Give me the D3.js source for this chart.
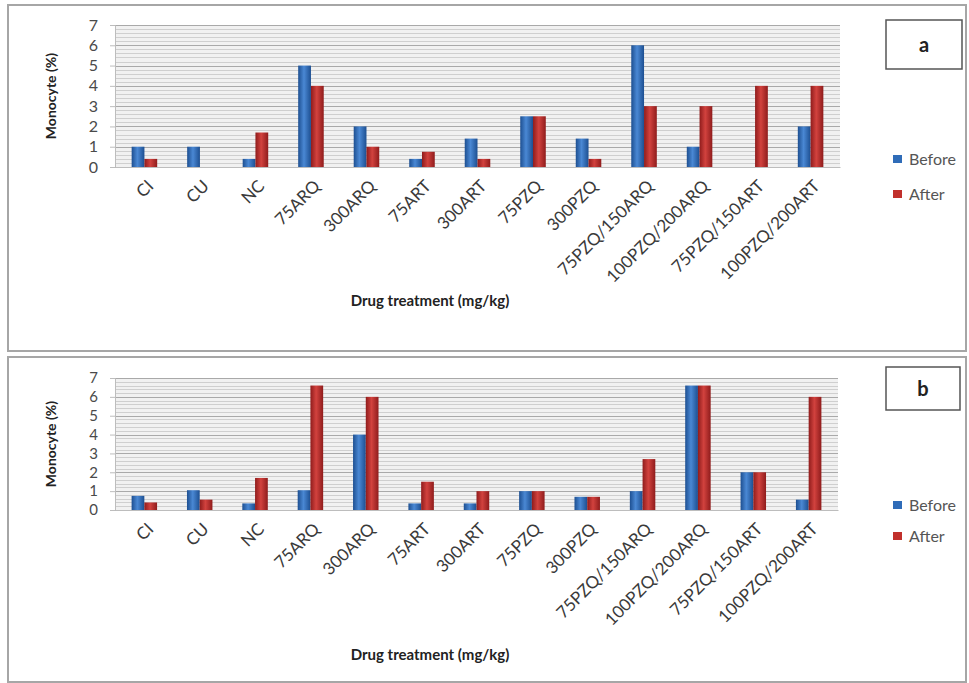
<!DOCTYPE html>
<html>
<head>
<meta charset="utf-8">
<script src="https://cdn.jsdelivr.net/npm/d3@7"></script>
<style>
  body { margin: 0; background: #fff; }
  svg { display: block; font-family: Lato, "Open Sans", sans-serif; }
</style>
</head>
<body>
<svg id="chart" width="969" height="683"></svg>
<script>
const categories = ['CI', 'CU', 'NC', '75ARQ', '300ARQ', '75ART', '300ART', '75PZQ', '300PZQ',
    '75PZQ/150ARQ', '100PZQ/200ARQ', '75PZQ/150ART', '100PZQ/200ART'];
const seriesNames = ['Before', 'After'];

const beforeA = [1, 1, 0.4, 5, 2, 0.4, 1.4, 2.5, 1.4, 6, 1, 0, 2];
const afterA  = [0.4, 0, 1.7, 4, 1, 0.75, 0.4, 2.5, 0.4, 3, 3, 4, 4];

const beforeB = [0.75, 1.05, 0.35, 1.05, 4, 0.35, 0.35, 1, 0.7, 1, 6.6, 2, 0.55];
const afterB  = [0.4, 0.55, 1.7, 6.6, 6, 1.5, 1, 1, 0.7, 2.7, 6.6, 2, 6];

const yTicks = [0, 1, 2, 3, 4, 5, 6, 7];

const svg = d3.select('#chart');

// gradients for the shaded excel-like bars
const defs = svg.append('defs');
const addGrad = (id, dark, light) => {
    const g = defs.append('linearGradient').attr('id', id)
        .attr('x1', 0).attr('x2', 1).attr('y1', 0).attr('y2', 0);
    g.append('stop').attr('offset', '0%').attr('stop-color', dark);
    g.append('stop').attr('offset', '45%').attr('stop-color', light);
    g.append('stop').attr('offset', '100%').attr('stop-color', dark);
};
addGrad('gBefore', '#1d4f91', '#4a88d4');
addGrad('gAfter', '#8f1c1c', '#d2423e');
const fills = ['url(#gBefore)', 'url(#gAfter)'];
const legendColors = ['#2f6cb8', '#c1302c'];

const drawPanel = (opt) => {
    const { box, plot, before, after, letter, letterBox, legendY, titleY, tickFont } = opt;

    // panel frame
    svg.append('rect')
        .attr('x', box[0]).attr('y', box[1])
        .attr('width', box[2]).attr('height', box[3])
        .attr('fill', '#fff').attr('stroke', '#a6a6a6').attr('stroke-width', 2);

    const x = d3.scaleBand().domain(categories)
        .range([plot.left, plot.right]).paddingInner(0.54).paddingOuter(0.3);
    const x1 = d3.scaleBand().domain(seriesNames).range([0, x.bandwidth()]);
    const y = d3.scaleLinear().domain([0, 7]).range([plot.bottom, plot.top]);

    // plot wall
    svg.append('rect')
        .attr('x', plot.left).attr('y', plot.top)
        .attr('width', plot.right - plot.left).attr('height', plot.bottom - plot.top)
        .attr('fill', '#f1f1f1');

    // minor grid
    svg.append('g')
        .selectAll('line')
        .data(d3.range(0, 7.01, 0.2))
        .enter()
        .append('line')
        .attr('x1', plot.left).attr('x2', plot.right)
        .attr('y1', d => Math.round(y(d)) + 0.5).attr('y2', d => Math.round(y(d)) + 0.5)
        .attr('stroke', '#cfcfcf').attr('stroke-width', 1);

    // major grid
    svg.append('g')
        .selectAll('line')
        .data(yTicks)
        .enter()
        .append('line')
        .attr('x1', plot.left).attr('x2', plot.right)
        .attr('y1', d => Math.round(y(d)) + 0.5).attr('y2', d => Math.round(y(d)) + 0.5)
        .attr('stroke', '#a9a9a9').attr('stroke-width', 1);

    // y axis
    const yAxis = svg.append('g')
        .attr('transform', `translate(${plot.left},0)`)
        .call(d3.axisLeft(y).tickValues(yTicks).tickFormat(d3.format('d')).tickSize(5).tickPadding(12));
    yAxis.select('.domain').attr('stroke', '#bdbdbd');
    yAxis.selectAll('.tick line').attr('stroke', '#bdbdbd');
    yAxis.selectAll('text').attr('fill', '#4a4a4a')
        .style('font-size', tickFont + 'px').style('font-family', 'Lato, sans-serif');

    // x axis, labels slanted so that they end under their bars
    const xAxis = svg.append('g')
        .attr('transform', `translate(0,${plot.bottom})`)
        .call(d3.axisBottom(x).tickSize(0));
    xAxis.select('.domain').attr('stroke', '#bdbdbd');
    xAxis.selectAll('text')
        .attr('fill', '#3a3a3a')
        .style('font-size', '17px').style('font-family', 'Lato, sans-serif')
        .attr('text-anchor', 'end')
        .attr('x', 0).attr('y', 0).attr('dy', '0.35em')
        .attr('transform', 'translate(6,16) rotate(-45)');

    // bars
    const rows = categories.map((c, i) => ({ cat: c, vals: [before[i], after[i]] }));
    const groups = svg.append('g')
        .selectAll('g')
        .data(rows)
        .enter()
        .append('g')
        .attr('transform', d => `translate(${x(d.cat)},0)`);
    groups.selectAll('rect')
        .data(d => d.vals.map((v, k) => ({ key: seriesNames[k], v: v, k: k })))
        .enter()
        .append('rect')
        .attr('x', d => x1(d.key))
        .attr('width', x1.bandwidth())
        .attr('y', d => y(d.v))
        .attr('height', d => y(0) - y(d.v))
        .attr('fill', d => fills[d.k]);

    // axis titles
    svg.append('text')
        .attr('transform', `translate(${box[0] + 48},${(plot.top + plot.bottom) / 2}) rotate(-90)`)
        .attr('text-anchor', 'middle')
        .style('font-size', '14px').style('font-weight', 'bold').attr('fill', '#222')
        .text('Monocyte (%)');
    svg.append('text')
        .attr('x', 430).attr('y', titleY)
        .attr('text-anchor', 'middle')
        .style('font-size', '15px').style('font-weight', 'bold').attr('fill', '#222')
        .text('Drug treatment (mg/kg)');

    // panel letter box
    svg.append('rect')
        .attr('x', letterBox[0]).attr('y', letterBox[1])
        .attr('width', letterBox[2]).attr('height', letterBox[3])
        .attr('fill', '#fff').attr('stroke', '#555').attr('stroke-width', 1.5);
    svg.append('text')
        .attr('x', letterBox[0] + letterBox[2] / 2).attr('y', letterBox[1] + letterBox[3] / 2 + 7)
        .attr('text-anchor', 'middle')
        .style('font-size', '20px').style('font-weight', 'bold').attr('fill', '#222')
        .text(letter);

    // legend
    const legend = svg.append('g');
    seriesNames.forEach((s, i) => {
        legend.append('rect')
            .attr('x', 893).attr('y', legendY[i] - 5)
            .attr('width', 9).attr('height', 8)
            .attr('fill', legendColors[i]);
        legend.append('text')
            .attr('x', 909).attr('y', legendY[i] + 5)
            .style('font-size', '16px').attr('fill', '#555')
            .text(s);
    });
};

drawPanel({
    box: [8, 5, 958, 346],
    plot: { left: 115, right: 840, top: 25, bottom: 167 },
    before: beforeA, after: afterA,
    letter: 'a', letterBox: [886, 20, 76, 49],
    legendY: [160, 195], titleY: 306, tickFont: 16
});

drawPanel({
    box: [8, 357, 958, 325],
    plot: { left: 115, right: 838, top: 378, bottom: 510 },
    before: beforeB, after: afterB,
    letter: 'b', letterBox: [886, 367, 74, 43],
    legendY: [506, 537], titleY: 660, tickFont: 15
});
</script>
</body>
</html>
